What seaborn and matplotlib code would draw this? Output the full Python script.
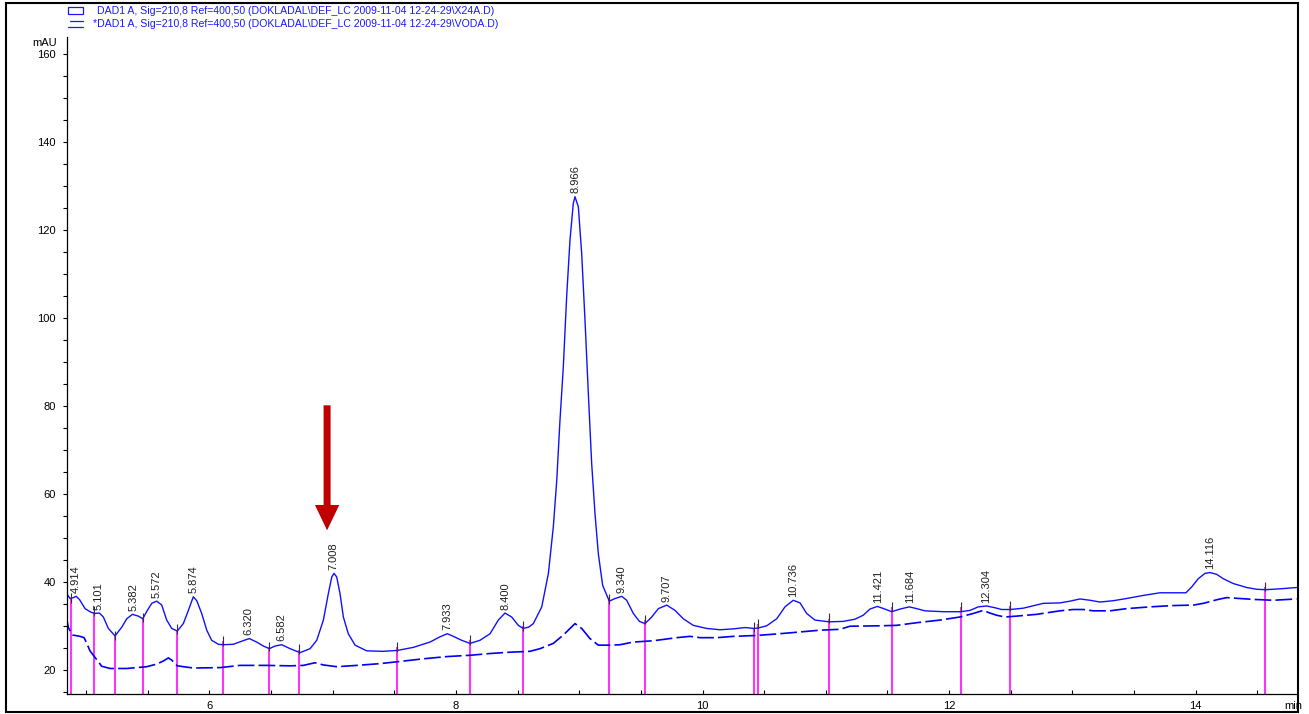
import matplotlib
matplotlib.use("Agg")
import matplotlib.pyplot as plt
from matplotlib.patches import Rectangle
from matplotlib.lines import Line2D
from matplotlib.ticker import MultipleLocator
import seaborn as sns
import pandas as pd

# ---------------- data ----------------
sample_time = [4.838, 4.870, 4.897, 4.919, 4.946, 4.992, 5.032, 5.067, 5.108, 5.140,
               5.181, 5.235, 5.290, 5.330, 5.376, 5.424, 5.460, 5.497, 5.533, 5.573,
               5.614, 5.654, 5.695, 5.740, 5.789, 5.830, 5.870, 5.898, 5.938, 5.979,
               6.019, 6.073, 6.114, 6.195, 6.263, 6.324, 6.384, 6.438, 6.487, 6.533,
               6.587, 6.655, 6.736, 6.817, 6.871, 6.925, 6.965, 6.993, 7.011, 7.033,
               7.060, 7.087, 7.127, 7.182, 7.277, 7.411, 7.525, 7.655, 7.790, 7.871,
               7.930, 7.979, 8.047, 8.114, 8.195, 8.277, 8.344, 8.398, 8.452, 8.506,
               8.545, 8.590, 8.628, 8.696, 8.750, 8.790, 8.818, 8.844, 8.871, 8.898,
               8.925, 8.952, 8.966, 8.993, 9.020, 9.047, 9.074, 9.101, 9.128, 9.155,
               9.190, 9.244, 9.291, 9.345, 9.385, 9.439, 9.488, 9.534, 9.588, 9.642,
               9.710, 9.777, 9.844, 9.925, 10.034, 10.142, 10.250, 10.345, 10.418, 10.453,
               10.521, 10.602, 10.669, 10.736, 10.791, 10.845, 10.912, 11.026, 11.142, 11.237,
               11.304, 11.358, 11.418, 11.480, 11.534, 11.602, 11.677, 11.737, 11.804, 11.953,
               12.096, 12.170, 12.237, 12.305, 12.372, 12.426, 12.494, 12.602, 12.764, 12.899,
               12.981, 13.062, 13.143, 13.224, 13.332, 13.440, 13.575, 13.710, 13.832, 13.921,
               13.967, 14.021, 14.075, 14.116, 14.170, 14.224, 14.305, 14.414, 14.495, 14.565,
               14.684, 14.819]
sample_mau = [37.6, 36.3, 36.5, 36.8, 36.1, 34.0, 33.3, 32.9, 33.0, 32.1,
              29.5, 27.8, 29.8, 31.7, 32.7, 32.3, 31.7, 33.6, 35.2, 35.7,
              34.8, 31.4, 29.5, 28.9, 30.6, 33.6, 36.7, 35.8, 32.9, 29.1,
              26.8, 25.9, 25.8, 25.9, 26.6, 27.2, 26.4, 25.5, 24.9, 25.5,
              25.8, 24.9, 24.0, 24.9, 26.8, 31.4, 37.4, 41.2, 42.0, 41.2,
              37.4, 32.1, 28.3, 25.7, 24.4, 24.3, 24.5, 25.2, 26.4, 27.6,
              28.3, 27.7, 26.8, 26.1, 26.8, 28.3, 31.4, 33.0, 32.1, 30.2,
              29.5, 29.8, 30.6, 34.4, 42.0, 52.6, 63.2, 76.8, 88.9, 104.8,
              117.7, 126.1, 127.6, 125.3, 114.7, 99.5, 82.9, 67.0, 55.6, 46.5,
              39.3, 35.7, 36.3, 36.8, 35.9, 32.9, 31.1, 30.6, 32.1, 34.0,
              34.8, 33.6, 31.7, 30.2, 29.5, 29.2, 29.4, 29.7, 29.5, 29.6,
              30.1, 31.7, 34.4, 35.9, 35.3, 32.9, 31.4, 31.0, 31.1, 31.6,
              32.5, 33.9, 34.5, 33.9, 33.3, 33.9, 34.4, 34.0, 33.5, 33.3,
              33.3, 33.6, 34.4, 34.6, 34.2, 33.8, 33.8, 34.1, 35.2, 35.3,
              35.7, 36.2, 35.9, 35.5, 35.8, 36.3, 37.0, 37.6, 37.6, 37.6,
              38.9, 40.8, 42.0, 42.2, 41.8, 40.8, 39.7, 38.8, 38.4, 38.3,
              38.5, 38.8]

blank_time = [4.838, 4.856, 4.892, 4.951, 4.984, 5.006, 5.032, 5.073, 5.127, 5.195,
              5.330, 5.492, 5.573, 5.627, 5.668, 5.695, 5.740, 5.870, 6.087, 6.249,
              6.466, 6.655, 6.762, 6.857, 6.925, 7.033, 7.195, 7.384, 7.547, 7.736,
              7.925, 8.114, 8.277, 8.439, 8.601, 8.682, 8.790, 8.871, 8.966, 9.020,
              9.087, 9.155, 9.250, 9.331, 9.439, 9.601, 9.791, 9.899, 9.980, 10.115,
              10.250, 10.440, 10.628, 10.791, 10.953, 11.115, 11.196, 11.440, 11.575, 11.737,
              11.926, 12.088, 12.196, 12.277, 12.331, 12.385, 12.453, 12.548, 12.710, 12.899,
              13.007, 13.088, 13.169, 13.305, 13.440, 13.630, 13.818, 13.981, 14.062, 14.183,
              14.251, 14.359, 14.467, 14.629, 14.819]
blank_mau = [32.5, 29.7, 28.0, 27.7, 27.4, 26.1, 24.4, 22.9, 20.9, 20.4,
             20.4, 20.8, 21.4, 22.1, 22.8, 22.3, 21.0, 20.5, 20.6, 21.1,
             21.1, 21.0, 21.1, 21.7, 21.2, 20.8, 21.1, 21.5, 22.0, 22.6,
             23.1, 23.4, 23.8, 24.1, 24.3, 24.9, 26.1, 28.0, 30.6, 29.5,
             27.2, 25.7, 25.7, 25.8, 26.4, 26.7, 27.4, 27.7, 27.4, 27.4,
             27.7, 27.9, 28.3, 28.7, 29.1, 29.3, 30.0, 30.1, 30.2, 30.8,
             31.4, 32.1, 32.9, 33.6, 33.0, 32.5, 32.1, 32.3, 32.7, 33.5,
             33.8, 33.8, 33.5, 33.5, 34.0, 34.4, 34.7, 34.8, 35.2, 36.1,
             36.5, 36.3, 36.1, 35.9, 36.2]

peak_times = [4.914, 5.101, 5.382, 5.572, 5.874, 6.320, 6.582, 7.008, 7.933, 8.400,
              8.966, 9.340, 9.707, 10.736, 11.421, 11.684, 12.304, 14.116]
peak_heights = [36.8, 33.0, 32.7, 35.7, 36.7, 27.2, 25.8, 42.0, 28.3, 33.0,
                127.6, 36.8, 34.8, 35.9, 34.5, 34.4, 34.6, 42.2]
peak_labels = ["4.914", "5.101", "5.382", "5.572", "5.874", "6.320", "6.582", "7.008",
               "7.933", "8.400", "8.966", "9.340", "9.707", "10.736", "11.421", "11.684",
               "12.304", "14.116"]

marker_times = [4.876, 5.067, 5.235, 5.460, 5.740, 6.114, 6.487, 6.730, 7.525, 8.114,
                8.542, 9.244, 9.534, 10.418, 10.453, 11.026, 11.534, 12.096, 12.494, 14.565]
marker_tops = [36.3, 33.3, 27.8, 31.9, 29.2, 26.6, 25.3, 24.7, 25.2, 26.8,
               30.0, 36.1, 31.4, 29.7, 30.5, 31.7, 34.4, 34.4, 34.5, 38.9]

legend_labels = ["DAD1 A, Sig=210,8 Ref=400,50 (DOKLADAL\\DEF_LC 2009-11-04 12-24-29\\X24A.D)",
                 "*DAD1 A, Sig=210,8 Ref=400,50 (DOKLADAL\\DEF_LC 2009-11-04 12-24-29\\VODA.D)"]

arrow_time = 6.955
arrow_from = 80.2
arrow_to = 51.8

# ---------------- style ----------------
sns.set_style("ticks")
plt.rcParams["font.family"] = ["Liberation Sans", "DejaVu Sans"]

W, H = 1309, 714
fig = plt.figure(figsize=(W / 100, H / 100), dpi=100)


def fx(px):
    return px / W


def fy(py):
    return 1 - py / H


ax_l, ax_r, ax_t, ax_b = 66.7, 1297, 37, 694
ax = fig.add_axes([fx(ax_l), fy(ax_b), fx(ax_r) - fx(ax_l), fy(ax_t) - fy(ax_b)])
ax.set_facecolor("white")

df_s = pd.DataFrame({"time": sample_time, "mAU": sample_mau})
df_b = pd.DataFrame({"time": blank_time, "mAU": blank_mau})

sns.lineplot(data=df_b, x="time", y="mAU", ax=ax, color="#0000ee", lw=1.2,
             estimator=None, sort=False)
ax.lines[-1].set_dashes((10, 2.5))
sns.lineplot(data=df_s, x="time", y="mAU", ax=ax, color="#1010ff", lw=1.0,
             estimator=None, sort=False)

ymin, ymax = 14.6, 163.9
ax.set_xlim(4.843, 14.822)
ax.set_ylim(ymin, ymax)

# integration baseline markers
ax.vlines(marker_times, ymin, marker_tops, colors="#ff33ff", lw=1.5, zorder=1)
ax.vlines(marker_times, [v - 1.0 for v in marker_tops], [v + 1.2 for v in marker_tops],
          colors="#333333", lw=0.8, zorder=4)

# peak labels
for t, h, lab in zip(peak_times, peak_heights, peak_labels):
    ax.annotate(lab, xy=(t, h), xytext=(0, 2.5), textcoords="offset points",
                rotation=90, ha="center", va="bottom", fontsize=8, color="#202020")

# red arrow
ax.annotate("", xy=(arrow_time, arrow_to), xytext=(arrow_time, arrow_from),
            arrowprops=dict(arrowstyle="simple,head_length=1.3,head_width=1.25,tail_width=0.36",
                            mutation_scale=14, fc="#c00000", ec="none", lw=0,
                            shrinkA=0, shrinkB=0))

# axes styling
ax.set_xlabel("")
ax.set_ylabel("")
for s in ["top", "right"]:
    ax.spines[s].set_visible(False)
for s in ["left", "bottom"]:
    ax.spines[s].set_color("black")
    ax.spines[s].set_linewidth(0.9)
ax.xaxis.set_major_locator(MultipleLocator(2))
ax.xaxis.set_minor_locator(MultipleLocator(0.5))
ax.yaxis.set_major_locator(MultipleLocator(20))
ax.yaxis.set_minor_locator(MultipleLocator(5))
ax.tick_params(axis="x", which="both", direction="in", length=3, width=0.8,
               pad=5, labelsize=8, colors="black")
ax.tick_params(axis="y", which="both", direction="out", length=3, width=0.8,
               pad=5, labelsize=8, colors="black")
ax.set_xticks([6, 8, 10, 12, 14])
ax.set_xticklabels(["6", "8", "10", "12", "14"])
ax.set_yticks([20, 40, 60, 80, 100, 120, 140, 160])
ax.set_yticklabels(["20", "40", "60", "80", "100", "120", "140", "160"])

# axis unit labels
fig.text(fx(57), fy(42.5), "mAU", ha="right", va="center", fontsize=8, color="black")
fig.text(fx(1284), fy(706), "min", ha="left", va="center", fontsize=8, color="black")

# legend (manual, like the instrument report)
leg_color = "#1a1aff"
fig.add_artist(Rectangle((fx(68), fy(14)), fx(83) - fx(68), fy(7) - fy(14),
                         transform=fig.transFigure, fill=False, ec=leg_color, lw=0.9))
fig.add_artist(Line2D([fx(70), fx(83)], [fy(21), fy(21)], transform=fig.transFigure,
                      color=leg_color, lw=0.9))
fig.add_artist(Line2D([fx(68), fx(83)], [fy(27), fy(27)], transform=fig.transFigure,
                      color=leg_color, lw=0.9))
fig.text(fx(97), fy(10.5), legend_labels[0], ha="left", va="center", fontsize=7.6,
         color=leg_color)
fig.text(fx(93), fy(24), legend_labels[1], ha="left", va="center", fontsize=7.6,
         color=leg_color)

# outer frame
fig.add_artist(Rectangle((fx(6), fy(712)), fx(1298) - fx(6), fy(3) - fy(712),
                         transform=fig.transFigure, fill=False, ec="black", lw=1.5))

fig.savefig("out.png", dpi=100, facecolor="white")
